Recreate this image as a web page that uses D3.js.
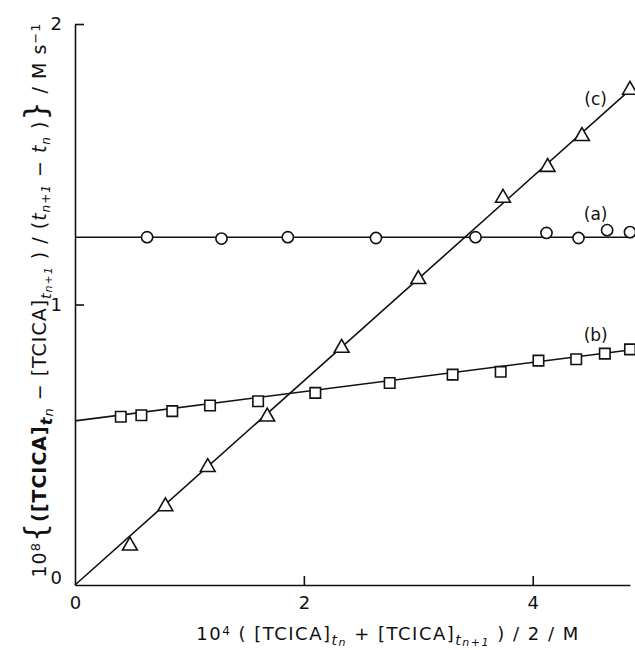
<!DOCTYPE html>
<html>
<head>
<meta charset="utf-8">
<script src="https://cdn.jsdelivr.net/npm/d3@7"></script>
<style>
  body { margin: 0; background: #fff; }
  text { font-family: "DejaVu Sans", sans-serif; fill: #111; }
</style>
</head>
<body>
<svg id="chart"></svg>
<script>
// series (a) circles
var aX = [0.63, 1.28, 1.86, 2.63, 3.5, 4.12, 4.4, 4.65, 4.85];
var aY = [1.24, 1.235, 1.24, 1.237, 1.24, 1.255, 1.237, 1.265, 1.258];
// series (b) squares
var bX = [0.4, 0.58, 0.85, 1.18, 1.6, 2.1, 2.75, 3.3, 3.72, 4.05, 4.38, 4.63, 4.85];
var bY = [0.60, 0.605, 0.62, 0.64, 0.655, 0.685, 0.72, 0.75, 0.76, 0.80, 0.805, 0.825, 0.84];
// series (c) triangles
var cX = [0.48, 0.79, 1.16, 1.68, 2.33, 3.0, 3.74, 4.13, 4.43, 4.85];
var cY = [0.14, 0.28, 0.42, 0.60, 0.845, 1.09, 1.38, 1.49, 1.60, 1.765];
// fitted straight lines (end points)
var fitA = [[0, 1.24], [4.85, 1.24]];
var fitB = [[0, 0.585], [4.85, 0.838]];
var fitC = [[0, 0], [4.85, 1.765]];
var xTicks = [0, 2, 4];
var yTicks = [0, 1, 2];

var W = 635, H = 650;
var svg = d3.select('#chart').attr('width', W).attr('height', H);

var x = d3.scaleLinear().domain([0, 4.85]).range([75, 630]);
var y = d3.scaleLinear().domain([0, 2]).range([585, 24]);

function zip(xs, ys) { return xs.map(function(v, i){ return [v, ys[i]]; }); }

// axes
var xAxis = svg.append('g')
  .attr('transform', 'translate(0,' + y(0) + ')')
  .call(d3.axisBottom(x).tickValues(xTicks).tickSizeInner(-9).tickSizeOuter(0).tickPadding(11).tickFormat(d3.format('d')));
var yAxis = svg.append('g')
  .attr('transform', 'translate(' + x(0) + ',0)')
  .call(d3.axisLeft(y).tickValues(yTicks).tickSizeInner(-9).tickSizeOuter(0).tickPadding(13).tickFormat(d3.format('d')));
[xAxis, yAxis].forEach(function(g){
  g.select('.domain').attr('stroke', '#111').attr('stroke-width', 1.6);
  g.selectAll('.tick line').attr('stroke', '#111').attr('stroke-width', 1.6);
  g.selectAll('.tick text').style('font-size', '18px').attr('fill', '#111');
});
xAxis.selectAll('.tick').filter(function(d){ return d === 0; }).select('line').remove();
yAxis.selectAll('.tick').filter(function(d){ return d === 0; }).select('line').remove();
yAxis.selectAll('.tick').filter(function(d){ return d === 0; }).select('text').attr('dy', '-0.1em');

// fitted lines
var line = d3.line().x(function(d){ return x(d[0]); }).y(function(d){ return y(d[1]); });
svg.append('g').selectAll('path')
  .data([fitA, fitB, fitC])
  .enter().append('path')
  .attr('d', line)
  .attr('fill', 'none')
  .attr('stroke', '#111')
  .attr('stroke-width', 1.6);

// markers
var marks = svg.append('g').attr('fill', '#fff').attr('stroke', '#111').attr('stroke-width', 1.6);
marks.selectAll('.ca').data(zip(aX, aY)).enter().append('circle')
  .attr('cx', function(d){ return x(d[0]); })
  .attr('cy', function(d){ return y(d[1]); })
  .attr('r', 5.6);
marks.selectAll('.sb').data(zip(bX, bY)).enter().append('path')
  .attr('transform', function(d){ return 'translate(' + x(d[0]) + ',' + y(d[1]) + ')'; })
  .attr('d', d3.symbol().type(d3.symbolSquare).size(110));
marks.selectAll('.tc').data(zip(cX, cY)).enter().append('path')
  .attr('transform', function(d){ return 'translate(' + x(d[0]) + ',' + y(d[1]) + ')'; })
  .attr('d', d3.symbol().type(d3.symbolTriangle).size(95));

// curve labels
var curveLabels = [['(c)', 4.55, 1.71], ['(a)', 4.55, 1.30], ['(b)', 4.55, 0.87]];
svg.append('g').selectAll('text').data(curveLabels).enter().append('text')
  .attr('x', function(d){ return x(d[1]); })
  .attr('y', function(d){ return y(d[2]); })
  .attr('text-anchor', 'middle')
  .style('font-size', '17px')
  .text(function(d){ return d[0]; });

// x title
var xt = svg.append('text').attr('x', 388).attr('y', 640).attr('text-anchor', 'middle')
  .style('font-size', '18px').style('letter-spacing', '1.5px');
xt.append('tspan').text('10');
xt.append('tspan').attr('baseline-shift', '45%').style('font-size', '12px').text('4');
xt.append('tspan').text(' ( [TCICA]');
xt.append('tspan').attr('baseline-shift', '-35%').style('font-size', '14px').style('font-style', 'italic').text('t');
xt.append('tspan').attr('baseline-shift', '-55%').style('font-size', '11px').style('font-style', 'italic').text('n');
xt.append('tspan').text(' + [TCICA]');
xt.append('tspan').attr('baseline-shift', '-35%').style('font-size', '14px').style('font-style', 'italic').text('t');
xt.append('tspan').attr('baseline-shift', '-55%').style('font-size', '11px').style('font-style', 'italic').text('n+1');
xt.append('tspan').text(' ) / 2 / M');

// y title
var yt = svg.append('text').attr('transform', 'translate(46,300) rotate(-90)').attr('text-anchor', 'middle')
  .style('font-size', '19px').style('letter-spacing', '1px');
yt.append('tspan').text('10');
yt.append('tspan').attr('baseline-shift', '45%').style('font-size', '13px').text('8');
yt.append('tspan').style('font-size', '30px').text('{');
yt.append('tspan').style('font-weight', 'bold').text('([TCICA]');
yt.append('tspan').attr('baseline-shift', '-35%').style('font-size', '16px').style('font-style', 'italic').style('font-weight', 'bold').text('t');
yt.append('tspan').attr('baseline-shift', '-55%').style('font-size', '13px').style('font-style', 'italic').text('n');
yt.append('tspan').text(' \u2212 [TCICA]');
yt.append('tspan').attr('baseline-shift', '-35%').style('font-size', '14px').style('font-style', 'italic').text('t');
yt.append('tspan').attr('baseline-shift', '-55%').style('font-size', '11px').style('font-style', 'italic').text('n+1');
yt.append('tspan').text(' ) / (');
yt.append('tspan').style('font-style', 'italic').text('t');
yt.append('tspan').attr('baseline-shift', '-35%').style('font-size', '12px').style('font-style', 'italic').text('n+1');
yt.append('tspan').text(' \u2212 ');
yt.append('tspan').style('font-style', 'italic').text('t');
yt.append('tspan').attr('baseline-shift', '-35%').style('font-size', '12px').style('font-style', 'italic').text('n');
yt.append('tspan').text(' )');
yt.append('tspan').style('font-size', '30px').text('}');
yt.append('tspan').text(' / M s');
yt.append('tspan').attr('baseline-shift', '45%').style('font-size', '13px').text('\u22121');
</script>
</body>
</html>
